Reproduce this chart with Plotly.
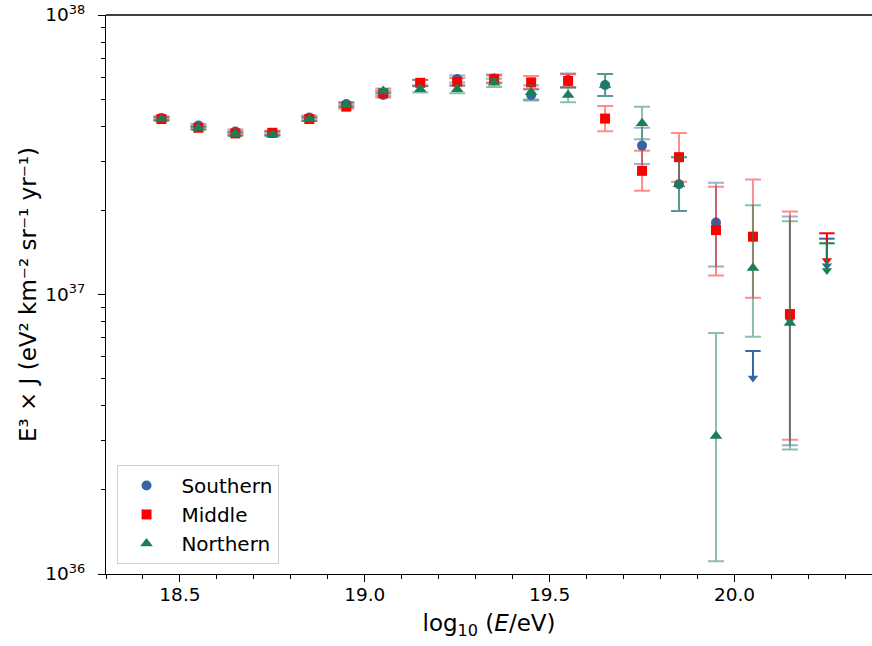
import numpy as np
import plotly.graph_objects as go

# ---------------- data (units of 1e37 eV^2 km^-2 sr^-1 yr^-1) ----------------
log_e = [18.45, 18.55, 18.65, 18.75, 18.85, 18.95, 19.05, 19.15, 19.25, 19.35,
         19.45, 19.55, 19.65, 19.75, 19.85, 19.95, 20.05, 20.15, 20.25]

south_val = [4.28, 4.02, 3.83, 3.78, 4.30, 4.80, 5.17, 5.71, 5.90, 5.93,
             5.17, 5.85, 5.62, 3.41, 2.48, 1.81, None, 0.831, None]
south_lo = [4.22, 3.97, 3.77, 3.72, 4.24, 4.72, 5.07, 5.58, 5.74, 5.74,
            4.94, 5.53, 5.13, 2.93, 1.99, 1.26, None, 0.289, None]
south_hi = [4.34, 4.07, 3.89, 3.84, 4.37, 4.88, 5.28, 5.85, 6.07, 6.13,
            5.41, 6.18, 6.15, 3.95, 3.10, 2.51, None, 1.90, None]
south_ul = [None] * 16 + [0.628, None, 1.584]

mid_val = [4.245, 3.95, 3.77, 3.79, 4.245, 4.70, 5.25, 5.72, 5.77, 5.89,
           5.74, 5.81, 4.26, 2.77, 3.10, 1.70, 1.61, 0.851, None]
mid_lo = [4.19, 3.90, 3.72, 3.73, 4.18, 4.62, 5.14, 5.59, 5.60, 5.70,
          5.45, 5.50, 3.84, 2.35, 2.53, 1.17, 0.974, 0.302, None]
mid_hi = [4.30, 4.00, 3.83, 3.85, 4.31, 4.78, 5.36, 5.86, 5.95, 6.08,
          6.05, 6.14, 4.73, 3.27, 3.78, 2.43, 2.58, 1.98, None]
mid_ul = [None] * 18 + [1.656]

north_val = [4.245, 3.94, 3.75, 3.74, 4.245, 4.77, 5.35, 5.42, 5.42, 5.72,
             5.29, 5.17, 5.62, 4.10, 2.48, 0.312, 1.244, 0.791, None]
north_lo = [4.19, 3.89, 3.69, 3.68, 4.18, 4.69, 5.24, 5.28, 5.25, 5.53,
            4.98, 4.87, 5.13, 3.59, 1.99, 0.111, 0.706, 0.279, None]
north_hi = [4.30, 3.99, 3.81, 3.80, 4.31, 4.85, 5.46, 5.56, 5.60, 5.92,
            5.61, 5.49, 6.15, 4.70, 3.10, 0.728, 2.085, 1.827, None]
north_ul = [None] * 18 + [1.525]

scale = 1e37
x_ticks = [18.5, 19.0, 19.5, 20.0]
x_tick_text = ["18.5", "19.0", "19.5", "20.0"]
y_ticks = [1e36, 1e37, 1e38]
y_tick_text = ["10<sup>36</sup>", "10<sup>37</sup>", "10<sup>38</sup>"]

series = [
    ("Southern", south_val, south_lo, south_hi, south_ul, "#3465a4", "rgba(52,101,164,0.5)", "circle", 10),
    ("Middle", mid_val, mid_lo, mid_hi, mid_ul, "#ff0000", "rgba(255,0,0,0.45)", "square", 10),
    ("Northern", north_val, north_lo, north_hi, north_ul, "#1a7f56", "rgba(26,127,86,0.5)", "triangle-up", 11),
]

ARROW_DEC = 0.097  # arrow length in decades (style)
FONT = "DejaVu Sans"

def arr(v):
    return np.array([np.nan if a is None else a for a in v], dtype=float)

fig = go.Figure()
for name, val, lo, hi, ul, col, ecol, sym, size in series:
    v = arr(val) * scale
    l = arr(lo) * scale
    h = arr(hi) * scale
    fig.add_trace(go.Scatter(
        x=log_e, y=v, mode="markers", name="\u00a0" + name, legendgroup=name,
        marker=dict(symbol=sym, size=size, color=col, line=dict(width=0)),
        error_y=dict(type="data", symmetric=False, array=h - v, arrayminus=v - l,
                     color=ecol, thickness=2, width=8),
    ))
    u = arr(ul) * scale
    mask = ~np.isnan(u)
    xs = [x for x, m in zip(log_e, mask) if m]
    us = u[mask]
    tips = us * 10.0 ** (-ARROW_DEC)
    # arrow shaft + head
    fig.add_trace(go.Scatter(
        x=xs, y=tips, mode="markers", showlegend=False, legendgroup=name,
        marker=dict(symbol="triangle-down", size=9, color=col, line=dict(width=0)),
        error_y=dict(type="data", symmetric=False, array=us - tips, arrayminus=[0.0] * len(xs),
                     color=col, thickness=2, width=0),
    ))
    # cap at the limit
    fig.add_trace(go.Scatter(
        x=xs, y=us, mode="markers", showlegend=False, legendgroup=name,
        marker=dict(symbol="line-ew", size=11, color=col, line=dict(width=2, color=col)),
    ))

y_minor = [float(m) * 10.0 ** e for e in (36, 37) for m in range(2, 10)]
x_minor = [round(18.3 + 0.1 * i, 1) for i in range(21)]

fig.update_layout(
    width=872, height=646,
    margin=dict(l=106, r=0, t=15, b=72),
    plot_bgcolor="white", paper_bgcolor="white",
    font=dict(family=FONT, size=19, color="black"),
    showlegend=True,
    legend=dict(x=0.0144, y=0.018, xanchor="left", yanchor="bottom",
                bordercolor="#d0d0d0", borderwidth=1, bgcolor="rgba(255,255,255,0.8)",
                font=dict(family=FONT, size=20), tracegroupgap=0, traceorder="grouped",
                itemwidth=47),
    xaxis=dict(
        range=[18.3, 20.372], showgrid=False, zeroline=False, automargin=False,
        showline=True, linecolor="black", linewidth=1.3, mirror=False,
        ticks="outside", ticklen=7, tickwidth=1.2, tickcolor="black",
        tickvals=x_ticks, ticktext=x_tick_text, tickfont=dict(size=18.5),
        ticklabelstandoff=-3,
        minor=dict(tickvals=x_minor,
                   ticks="outside", ticklen=4, tickwidth=1, tickcolor="black"),
        title=dict(text="log<sub>10</sub> (<i>E</i>/eV)", font=dict(size=23), standoff=10),
    ),
    yaxis=dict(
        type="log", range=[36, 38], showgrid=False, zeroline=False, automargin=False,
        showline=True, linecolor="black", linewidth=1.3, mirror=False,
        ticks="outside", ticklen=7, tickwidth=1.2, tickcolor="black",
        tickvals=y_ticks, ticktext=y_tick_text, ticklabelstandoff=9,
        ticklabeloverflow="allow", tickfont=dict(size=18.5),
        minor=dict(tickvals=y_minor,
                   ticks="outside", ticklen=4, tickwidth=1, tickcolor="black"),
        title=dict(text="E³ × J (eV² km⁻² sr⁻¹ yr⁻¹)", font=dict(size=23), standoff=2),
    ),
)
fig.add_shape(type="line", xref="paper", yref="paper", x0=0, x1=1, y0=1, y1=1,
              line=dict(color="black", width=1.3))

fig.write_html("out.html", config={"displayModeBar": False},
               post_script="document.body.style.margin='0px';")
